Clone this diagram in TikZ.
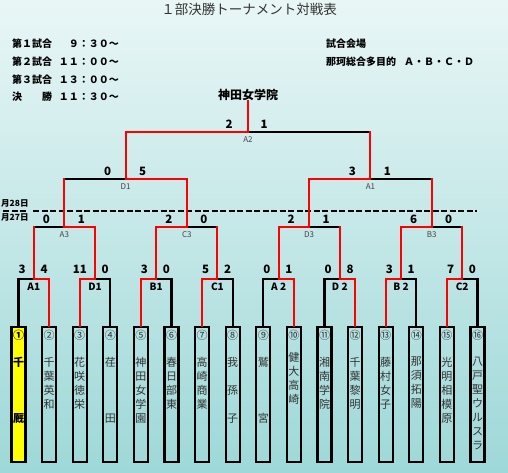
\documentclass[tikz,border=0pt]{standalone}
\usepackage{fontspec}
\setmainfont{Noto Sans CJK JP}
\definecolor{bgtop}{HTML}{E9F6F6}
\definecolor{bgmid}{HTML}{D2EDED}
\definecolor{bgbot}{HTML}{9ED8D8}
\definecolor{txt}{HTML}{333333}
\definecolor{labgray}{HTML}{444444}
\definecolor{boxyellow}{HTML}{FFFF00}
\begin{document}
\begin{tikzpicture}[x=1pt,y=-1pt,
  ln/.style={line width=2.1pt,line cap=rect},
  win/.style={ln,draw=red},
  lose/.style={ln,draw=black},
  box/.style={draw,line width=2.1pt,minimum width=14pt,minimum height=135pt,inner sep=0pt},
  num/.style={font=\fontsize{11}{13}\selectfont,text=txt,inner sep=0pt},
  team/.style={font=\fontsize{11}{14}\selectfont,text=txt,align=center,inner sep=0pt,anchor=north},
  sc/.style={font=\bfseries\fontsize{11.5}{13}\selectfont,inner sep=0pt},
  rolab/.style={font=\bfseries\fontsize{10}{12}\selectfont,inner sep=0pt},
  rlab/.style={font=\fontsize{8}{10}\selectfont,text=labgray,inner sep=0pt},
  hdr/.style={font=\bfseries\fontsize{10}{12}\selectfont,inner sep=0pt,anchor=west},
  hdrt/.style={font=\bfseries\fontsize{10}{12}\selectfont,inner sep=0pt,anchor=east},
  datel/.style={font=\bfseries\fontsize{8.5}{10}\selectfont,inner sep=0pt,anchor=west},
]
\shade[top color=bgtop,middle color=bgmid,bottom color=bgbot] (0,0) rectangle (508,473);
\useasboundingbox (0,0) rectangle (508,473);

% title and header
\node[font=\fontsize{13.5}{15}\selectfont,text=txt,inner sep=0pt] (title) at (249,9) {１部決勝トーナメント対戦表};
\node[hdr] (h1) at (12,44) {第１試合};
\node[hdrt] (h1t) at (119,44) {９：３０～};
\node[hdr] (h2) at (12,62) {第２試合};
\node[hdrt] (h2t) at (119,62) {１１：００～};
\node[hdr] (h3) at (12,79.5) {第３試合};
\node[hdrt] (h3t) at (119,79.5) {１３：００～};
\node[hdr] (h4) at (12,97) {決\hspace{20pt}勝};
\node[hdrt] (h4t) at (119,97) {１１：３０～};
\node[hdr] (v1) at (326,44) {試合会場};
\node[hdr] (v2) at (326,62) {那珂総合多目的\hspace{8pt}Ａ・Ｂ・Ｃ・Ｄ};

% dates and dashed line
\node[datel] (d28) at (1,203.5) {月28日};
\node[datel] (d27) at (1,217) {月27日};
\coordinate (dl1) at (3,211);
\coordinate (dl2) at (27,211);
\coordinate (dl3) at (33,211);
\coordinate (dl4) at (477,211);
\draw[line width=1.4pt,dash pattern=on 6pt off 2.5pt] (dl1) -- (dl2);
\draw[line width=1.4pt,dash pattern=on 6pt off 2.5pt] (dl3) -- (dl4);

% team boxes
\node[box,fill=boxyellow] (t1) at (18.5,394.5) {};
\foreach \i in {2,...,16}{
  \pgfmathsetmacro\cx{18.5+30.6*(\i-1)}
  \node[box] (t\i) at (\cx,394.5) {};
}
% numbers
\node[num,font=\bfseries\fontsize{11}{13}\selectfont,text=black] (n1) at (t1.north |- 0,335) {①};
\foreach \i/\c in {2/②,3/③,4/④,5/⑤,6/⑥,7/⑦,8/⑧,9/⑨,10/⑩,11/⑪,12/⑫,13/⑬,14/⑭,15/⑮,16/⑯}{
  \node[num] (n\i) at (t\i.north |- 0,335) {\c};
}
% team names
\node[team,font=\bfseries\fontsize{11}{14}\selectfont,text=black] (m1) at (t1.north |- 0,357) {千\\[42pt]厩};
\node[team] (m2) at (t2.north |- 0,357) {千\\葉\\英\\和};
\node[team] (m3) at (t3.north |- 0,357) {花\\咲\\徳\\栄};
\node[team] (m4) at (t4.north |- 0,357) {荏\\[42pt]田};
\node[team] (m5) at (t5.north |- 0,357) {神\\田\\女\\学\\園};
\node[team] (m6) at (t6.north |- 0,357) {春\\日\\部\\東};
\node[team] (m7) at (t7.north |- 0,357) {高\\崎\\商\\業};
\node[team] (m8) at (t8.north |- 0,357) {我\\[14pt]孫\\[14pt]子};
\node[team] (m9) at (t9.north |- 0,357) {鷲\\[42pt]宮};
\node[team] (m10) at (t10.north |- 0,352) {健\\大\\高\\崎};
\node[team] (m11) at (t11.north |- 0,357) {湘\\南\\学\\院};
\node[team] (m12) at (t12.north |- 0,357) {千\\葉\\黎\\明};
\node[team] (m13) at (t13.north |- 0,357) {藤\\村\\女\\子};
\node[team] (m14) at (t14.north |- 0,357) {那\\須\\拓\\陽};
\node[team] (m15) at (t15.north |- 0,357) {光\\明\\相\\模\\原};
\node[team] (m16) at (t16.north |- 0,357) {八\\戸\\聖\\ウ\\ル\\ス\\ラ};

% match points
\coordinate (r1-1) at (33.8,279);
\coordinate (r1-2) at (95,279);
\coordinate (r1-3) at (156.2,279);
\coordinate (r1-4) at (217.4,279);
\coordinate (r1-5) at (278.6,279);
\coordinate (r1-6) at (339.8,279);
\coordinate (r1-7) at (401,279);
\coordinate (r1-8) at (462.2,279);
\coordinate (r2-1) at (64.4,227);
\coordinate (r2-2) at (186.8,227);
\coordinate (r2-3) at (309.2,227);
\coordinate (r2-4) at (431.6,227);
\coordinate (r3-1) at (125.6,179);
\coordinate (r3-2) at (370.4,179);
\coordinate (fin) at (248,132);
\node[font=\bfseries\fontsize{12}{14}\selectfont,inner sep=0pt] (champ) at (248,95) {神田女学院};

% round 1
\draw[lose] (t1.north) |- (r1-1);  \draw[win] (t2.north) |- (r1-1);
\draw[lose] (t4.north) |- (r1-2);  \draw[win] (t3.north) |- (r1-2);
\draw[lose] (t6.north) |- (r1-3);  \draw[win] (t5.north) |- (r1-3);
\draw[lose] (t8.north) |- (r1-4);  \draw[win] (t7.north) |- (r1-4);
\draw[lose] (t9.north) |- (r1-5);  \draw[win] (t10.north) |- (r1-5);
\draw[lose] (t11.north) |- (r1-6); \draw[win] (t12.north) |- (r1-6);
\draw[lose] (t14.north) |- (r1-7); \draw[win] (t13.north) |- (r1-7);
\draw[lose] (t16.north) |- (r1-8); \draw[win] (t15.north) |- (r1-8);
% round 2
\draw[lose] (r1-1 |- r2-1) -- (r2-1); \draw[win] (r1-1) -- (r1-1 |- r2-1); \draw[win] (r1-2) |- (r2-1);
\draw[lose] (r1-4 |- r2-2) -- (r2-2); \draw[win] (r1-4) -- (r1-4 |- r2-2); \draw[win] (r1-3) |- (r2-2);
\draw[lose] (r1-6 |- r2-3) -- (r2-3); \draw[win] (r1-6) -- (r1-6 |- r2-3); \draw[win] (r1-5) |- (r2-3);
\draw[lose] (r1-8 |- r2-4) -- (r2-4); \draw[win] (r1-8) -- (r1-8 |- r2-4); \draw[win] (r1-7) |- (r2-4);
% round 3
\draw[lose] (r2-1 |- r3-1) -- (r3-1); \draw[win] (r2-1) -- (r2-1 |- r3-1); \draw[win] (r2-2) |- (r3-1);
\draw[lose] (r2-4 |- r3-2) -- (r3-2); \draw[win] (r2-4) -- (r2-4 |- r3-2); \draw[win] (r2-3) |- (r3-2);
% final
\draw[lose] (r3-2 |- fin) -- (fin); \draw[win] (r3-2) -- (r3-2 |- fin); \draw[win] (r3-1) |- (fin);
\draw[win] (fin) -- (champ.south);

% round 1 labels and scores
\foreach \k/\lab/\a/\b in {1/A1/3/4,2/D1/11/0,3/B1/3/0,4/C1/5/2,5/A 2/0/1,6/D 2/0/8,7/B 2/3/1,8/C2/7/0}{
  \node[rolab] (l1-\k) at ([yshift=-8pt]r1-\k) {\lab};
  \node[sc,anchor=east] (sa1-\k) at ([xshift=-8pt,yshift=10pt]r1-\k) {\a};
  \node[sc,anchor=west] (sb1-\k) at ([xshift=6.5pt,yshift=10pt]r1-\k) {\b};
}
\foreach \k/\lab/\a/\b in {1/A3/0/1,2/C3/2/0,3/D3/2/1,4/B3/6/0}{
  \node[rlab] (l2-\k) at ([yshift=-8pt]r2-\k) {\lab};
  \node[sc] (sa2-\k) at ([xshift=-18pt,yshift=8pt]r2-\k) {\a};
  \node[sc] (sb2-\k) at ([xshift=17pt,yshift=8pt]r2-\k) {\b};
}
\foreach \k/\lab/\a/\b in {1/D1/0/5,2/A1/3/1}{
  \node[rlab] (l3-\k) at ([yshift=-8pt]r3-\k) {\lab};
  \node[sc] (sa3-\k) at ([xshift=-18pt,yshift=8pt]r3-\k) {\a};
  \node[sc] (sb3-\k) at ([xshift=17pt,yshift=8pt]r3-\k) {\b};
}
\node[rlab] (lf) at ([yshift=-8pt]fin) {A2};
\node[sc] (saf) at ([xshift=-19pt,yshift=8pt]fin) {2};
\node[sc] (sbf) at ([xshift=16pt,yshift=8pt]fin) {1};
\end{tikzpicture}
\end{document}
